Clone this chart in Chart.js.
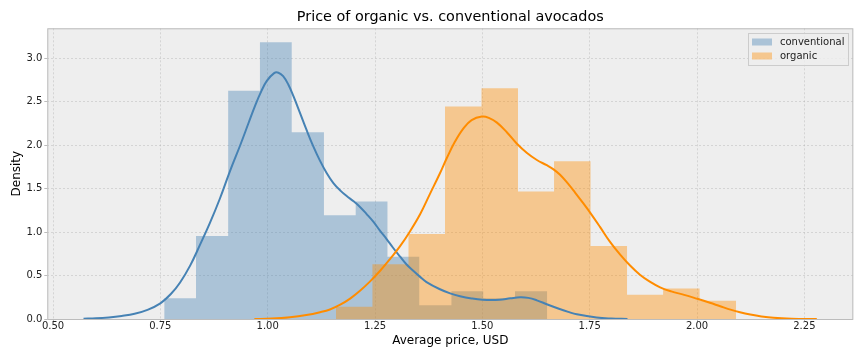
<!DOCTYPE html>
<html>
<head>
<meta charset="utf-8">
<script src="https://cdn.jsdelivr.net/npm/chart.js@4/dist/chart.umd.min.js"></script>
<style>
  html, body { margin: 0; padding: 0; background: #ffffff; }
  #wrap { width: 864px; height: 360px; }
</style>
</head>
<body>
<div id="wrap"><canvas id="c" width="864" height="360"></canvas></div>
<script>
// ---------------- data ----------------
const chartTitle = "Price of organic vs. conventional avocados";
const xLabel = "Average price, USD";
const yLabel = "Density";
const seriesNames = ["conventional", "organic"];

const xTicks = [0.50, 0.75, 1.00, 1.25, 1.50, 1.75, 2.00, 2.25];
const yTicks = [0.0, 0.5, 1.0, 1.5, 2.0, 2.5, 3.0];

// histogram bin edges and densities
const convBinEdges = [0.759, 0.833, 0.908, 0.982, 1.056, 1.131, 1.205, 1.279, 1.353, 1.428, 1.502, 1.576, 1.651];
const convDensity  = [0.239, 0.955, 2.627, 3.184, 2.149, 1.194, 1.353, 0.716, 0.159, 0.318, 0.239, 0.318];

const orgBinEdges  = [1.159, 1.244, 1.328, 1.413, 1.498, 1.583, 1.667, 1.752, 1.837, 1.921, 2.006, 2.091];
const orgDensity   = [0.140, 0.629, 0.979, 2.447, 2.656, 1.468, 1.817, 0.839, 0.280, 0.350, 0.210];

// kernel density curves
const convKdeX = [0.571, 0.600, 0.630, 0.660, 0.690, 0.720, 0.750, 0.775, 0.796, 0.820, 0.842, 0.865, 0.889, 0.912, 0.936, 0.955, 0.971, 0.985, 0.998, 1.015, 1.025, 1.036, 1.048, 1.060, 1.075, 1.091, 1.106, 1.122, 1.138, 1.153, 1.170, 1.184, 1.200, 1.215, 1.230, 1.246, 1.261, 1.277, 1.292, 1.308, 1.323, 1.339, 1.355, 1.370, 1.400, 1.425, 1.448, 1.475, 1.500, 1.540, 1.565, 1.588, 1.607, 1.627, 1.650, 1.680, 1.700, 1.720, 1.766, 1.800, 1.838];
const convKdeY = [0.004, 0.008, 0.018, 0.035, 0.060, 0.105, 0.180, 0.290, 0.420, 0.620, 0.850, 1.100, 1.390, 1.700, 2.000, 2.250, 2.460, 2.620, 2.740, 2.830, 2.835, 2.795, 2.700, 2.565, 2.375, 2.170, 1.990, 1.820, 1.675, 1.565, 1.475, 1.415, 1.355, 1.290, 1.210, 1.120, 1.020, 0.920, 0.820, 0.720, 0.630, 0.555, 0.485, 0.425, 0.345, 0.295, 0.262, 0.236, 0.222, 0.222, 0.238, 0.250, 0.243, 0.215, 0.170, 0.115, 0.082, 0.054, 0.017, 0.005, 0.000];

const orgKdeX = [0.969, 1.010, 1.052, 1.090, 1.122, 1.145, 1.169, 1.192, 1.215, 1.238, 1.262, 1.285, 1.308, 1.331, 1.355, 1.378, 1.401, 1.417, 1.436, 1.456, 1.475, 1.499, 1.515, 1.534, 1.557, 1.580, 1.604, 1.627, 1.650, 1.665, 1.681, 1.700, 1.716, 1.733, 1.751, 1.774, 1.797, 1.821, 1.844, 1.867, 1.890, 1.914, 1.940, 1.970, 1.999, 2.030, 2.054, 2.080, 2.100, 2.124, 2.150, 2.178, 2.220, 2.279];
const orgKdeY = [0.000, 0.005, 0.020, 0.045, 0.078, 0.110, 0.165, 0.235, 0.325, 0.430, 0.555, 0.690, 0.835, 1.005, 1.205, 1.440, 1.675, 1.850, 2.040, 2.195, 2.290, 2.330, 2.315, 2.260, 2.150, 2.020, 1.910, 1.830, 1.770, 1.725, 1.660, 1.555, 1.455, 1.345, 1.225, 1.060, 0.890, 0.740, 0.615, 0.510, 0.430, 0.365, 0.318, 0.278, 0.235, 0.187, 0.147, 0.105, 0.078, 0.052, 0.030, 0.014, 0.004, 0.000];

// ---------------- styling ----------------
const convLine = "rgb(70,130,180)";
const orgLine  = "rgb(255,140,0)";
const convFill = "rgba(70,130,180,0.4)";
const orgFill  = "rgba(255,140,0,0.4)";
const FONT = "'DejaVu Sans', 'Liberation Sans', sans-serif";

function histPoints(edges, dens) {
  // stepped 'before': the segment from edge i to edge i+1 keeps the height of bin i
  return edges.map((e, i) => ({ x: e, y: i < dens.length ? dens[i] : 0 }));
}
function curvePoints(xs, ys) {
  return xs.map((x, i) => ({ x: x, y: ys[i] }));
}

const bgPlugin = {
  id: 'bg',
  beforeDraw(chart) {
    const { ctx, chartArea: a } = chart;
    ctx.save();
    ctx.fillStyle = '#eeeeee';
    ctx.fillRect(a.left, a.top, a.right - a.left, a.bottom - a.top);
    ctx.restore();
  },
  afterDatasetsDraw(chart) {
    const { ctx, chartArea: a } = chart;
    ctx.save();
    ctx.strokeStyle = '#bcbcbc';
    ctx.lineWidth = 1;
    ctx.strokeRect(a.left + 0.5, a.top + 0.5, a.right - a.left - 1, a.bottom - a.top);
    ctx.restore();
  },
  afterDraw(chart) {
    const { ctx, chartArea: a } = chart;
    ctx.save();
    // title
    ctx.fillStyle = '#000000';
    ctx.font = "14.4px " + FONT;
    ctx.textAlign = 'center';
    ctx.textBaseline = 'middle';
    ctx.fillText(chartTitle, (a.left + a.right) / 2, 17);
    // legend
    const lx = 748.5, ly = 33.5, lw = 100, lh = 32;
    ctx.fillStyle = 'rgba(238,238,238,0.8)';
    ctx.fillRect(lx, ly, lw, lh);
    ctx.strokeStyle = '#cccccc';
    ctx.lineWidth = 1;
    ctx.strokeRect(lx, ly, lw, lh);
    const fills = [convFill, orgFill];
    ctx.font = "10px " + FONT;
    ctx.textAlign = 'left';
    for (let i = 0; i < seriesNames.length; i++) {
      const cy = 42 + i * 14;
      ctx.fillStyle = fills[i];
      ctx.fillRect(752, cy - 3.5, 20, 7);
      ctx.fillStyle = '#222222';
      ctx.fillText(seriesNames[i], 780, cy);
    }
    ctx.restore();
  }
};

const gridOpts = { color: 'rgba(178,178,178,0.75)', lineWidth: 0.6, tickLength: 3, tickColor: '#bcbcbc', tickWidth: 1, drawTicks: true };

new Chart(document.getElementById('c'), {
  type: 'line',
  data: {
    datasets: [
      { label: seriesNames[0] + ' hist', data: histPoints(convBinEdges, convDensity), stepped: 'before',
        fill: 'origin', backgroundColor: convFill, borderColor: 'rgba(0,0,0,0)', borderWidth: 0, pointRadius: 0, order: 4 },
      { label: seriesNames[1] + ' hist', data: histPoints(orgBinEdges, orgDensity), stepped: 'before',
        fill: 'origin', backgroundColor: orgFill, borderColor: 'rgba(0,0,0,0)', borderWidth: 0, pointRadius: 0, order: 3 },
      { label: seriesNames[0], data: curvePoints(convKdeX, convKdeY), borderColor: convLine, borderWidth: 2,
        fill: false, pointRadius: 0, tension: 0.4, order: 2 },
      { label: seriesNames[1], data: curvePoints(orgKdeX, orgKdeY), borderColor: orgLine, borderWidth: 2,
        fill: false, pointRadius: 0, tension: 0.4, order: 1 }
    ]
  },
  options: {
    responsive: false,
    animation: false,
    devicePixelRatio: 1,
    layout: { padding: { top: 28.3, right: 10.7, left: 0, bottom: 0 } },
    plugins: { legend: { display: false }, tooltip: { enabled: false }, title: { display: false } },
    scales: {
      x: {
        type: 'linear', min: 0.4867, max: 2.364,
        afterBuildTicks: s => { s.ticks = xTicks.map(v => ({ value: v })); },
        afterFit: s => { s.height = 41; },
        ticks: { callback: v => Number(v).toFixed(2), color: '#222222', font: { family: FONT, size: 10, lineHeight: 1.0 }, padding: -1, maxRotation: 0, autoSkip: false },
        grid: gridOpts,
        border: { display: false, dash: [2, 2] },
        title: { display: true, text: xLabel, color: '#000000', font: { family: FONT, size: 12 }, padding: { top: 0, bottom: 12 } }
      },
      y: {
        type: 'linear', min: 0, max: 3.346,
        afterBuildTicks: s => { s.ticks = yTicks.map(v => ({ value: v })); },
        afterFit: s => { s.width = 47.3; },
        ticks: { callback: v => Number(v).toFixed(1), color: '#222222', font: { family: FONT, size: 10 }, padding: 2 },
        grid: gridOpts,
        border: { display: false, dash: [2, 2] },
        title: { display: true, text: yLabel, color: '#000000', font: { family: FONT, size: 12 }, padding: { top: 9.5, bottom: 0 } }
      }
    }
  },
  plugins: [bgPlugin]
});
</script>
</body>
</html>
